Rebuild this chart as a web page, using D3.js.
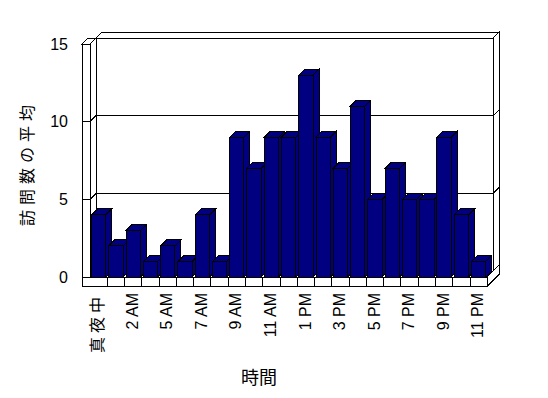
<!DOCTYPE html>
<html>
<head lang="ja">
    <meta charset="UTF-8">
    <script src="https://cdn.jsdelivr.net/npm/d3@7"></script>
    <style>
        body { margin: 0; background: #fff; }
        svg text { font-family: "Liberation Sans", Arial, "Noto Sans CJK JP", sans-serif; fill: #000; }
    </style>
</head>
<body>
<svg width="548" height="398"></svg>
<script>
    // hours shown on the chart (4 AM has no data in the source)
    var hours = ['真夜中', '1 AM', '2 AM', '3 AM', '5 AM', '6 AM', '7 AM', '8 AM', '9 AM', '10 AM', '11 AM', '12 PM',
        '1 PM', '2 PM', '3 PM', '4 PM', '5 PM', '6 PM', '7 PM', '8 PM', '9 PM', '10 PM', '11 PM'];
    var visits = [4, 2, 3, 1, 2, 1, 4, 1, 9, 7, 9, 9, 13, 9, 7, 11, 5, 7, 5, 5, 9, 4, 1];
    var yTicks = [0, 5, 10, 15];
    var yTitle = '訪問数の平均';
    var xTitle = '時間';

    var svg = d3.select('svg');
    var g = svg.append('g').attr('shape-rendering', 'crispEdges');

    var x0 = 90, x1 = 487.3;
    var dx = 6, dy = -6;       // depth of bars / distance to back wall
    var wallLeft = 82;
    var floorH = 9;
    var navy = '#000080';

    var x = d3.scaleBand().domain(hours).range([x0, x1]).paddingInner(0.17).paddingOuter(0.085);
    var y = d3.scaleLinear().domain([0, 15]).range([277, 44]);
    var step = x.step();
    var yTop = y(15), yBase = y(0);

    function poly(pts) {
        return 'M' + pts.map(function (p) { return p[0] + ',' + p[1]; }).join('L') + 'Z';
    }
    function seg(a, b) {
        return 'M' + a[0] + ',' + a[1] + 'L' + b[0] + ',' + b[1];
    }
    var frame = g.append('g').attr('stroke', '#000').attr('stroke-width', 1).attr('fill', '#fff');

    // back wall: face, top and right edge
    frame.append('path').attr('d', poly([[x0 + dx, yTop + dy], [x1 + dx, yTop + dy], [x1 + dx, yBase + dy], [x0 + dx, yBase + dy]]));
    frame.append('path').attr('d', poly([[x0 + dx, yTop + dy], [x1 + dx, yTop + dy], [x1 + 2 * dx, yTop + 2 * dy], [x0 + 2 * dx, yTop + 2 * dy]]));
    frame.append('path').attr('d', poly([[x1 + dx, yTop + dy], [x1 + 2 * dx, yTop + 2 * dy], [x1 + 2 * dx, yBase + 2 * dy], [x1 + dx, yBase + dy]]));

    // left wall: front face, top, inner face
    frame.append('path').attr('d', poly([[wallLeft, yTop], [x0, yTop], [x0, yBase], [wallLeft, yBase]]));
    frame.append('path').attr('d', poly([[wallLeft, yTop], [x0, yTop], [x0 + dx, yTop + dy], [wallLeft + dx, yTop + dy]]));
    frame.append('path').attr('d', poly([[x0, yTop], [x0 + dx, yTop + dy], [x0 + dx, yBase + dy], [x0, yBase]]));

    // gridlines across walls
    var grid = g.append('g').attr('stroke', '#000').attr('fill', 'none');
    yTicks.filter(function (v) { return v > 0 && v < 15; }).forEach(function (v) {
        var yy = y(v);
        grid.append('path').attr('d', seg([wallLeft, yy], [x0, yy]));
        grid.append('path').attr('d', seg([x0, yy], [x0 + dx, yy + dy]));
        grid.append('path').attr('d', seg([x0 + dx, yy + dy], [x1 + dx, yy + dy]));
        grid.append('path').attr('d', seg([x1 + dx, yy + dy], [x1 + 2 * dx, yy + 2 * dy]));
    });

    // floor slab
    frame.append('path').attr('d', poly([[x0, yBase], [x1, yBase], [x1 + dx, yBase + dy], [x0 + dx, yBase + dy]]));
    frame.append('path').attr('d', poly([[x1, yBase], [x1 + 2 * dx, yBase + 2 * dy], [x1 + 2 * dx, yBase + floorH + 2 * dy], [x1, yBase + floorH]]));

    // bars
    var bars = g.selectAll('.bar')
        .data(visits)
        .enter()
        .append('g')
        .attr('class', 'bar')
        .attr('fill', navy)
        .attr('stroke', '#000');
    bars.append('path').attr('d', function (d, i) {
        var bx = x(hours[i]) + x.bandwidth(), by = y(d);
        return poly([[bx, by], [bx + dx, by + dy], [bx + dx, yBase + dy], [bx, yBase]]);
    });
    bars.append('path').attr('d', function (d, i) {
        var bx = x(hours[i]), by = y(d), bw = x.bandwidth();
        return poly([[bx, by], [bx + bw, by], [bx + bw + dx, by + dy], [bx + dx, by + dy]]);
    });
    bars.append('rect')
        .attr('x', function (d, i) { return x(hours[i]); })
        .attr('y', function (d) { return y(d); })
        .attr('width', x.bandwidth())
        .attr('height', function (d) { return yBase - y(d); });

    // floor front face with category dividers
    frame.append('rect').attr('x', wallLeft).attr('y', yBase).attr('width', x1 - wallLeft).attr('height', floorH);
    g.selectAll('.divider')
        .data(hours.slice(1))
        .enter()
        .append('line')
        .attr('x1', function (d) { return x(d) - (step - x.bandwidth()) / 2; })
        .attr('x2', function (d) { return x(d) - (step - x.bandwidth()) / 2; })
        .attr('y1', yBase)
        .attr('y2', yBase + floorH)
        .attr('stroke', '#000');

    // y tick labels
    svg.selectAll('.ytick')
        .data(yTicks)
        .enter()
        .append('text')
        .attr('x', 68)
        .attr('y', function (d) { return y(d); })
        .attr('dy', '0.35em')
        .attr('text-anchor', 'end')
        .style('font-size', '16px')
        .text(function (d) { return d; });

    // x tick labels, every other hour
    svg.selectAll('.xtick')
        .data(hours.filter(function (d, i) { return i % 2 === 0; }))
        .enter()
        .append('text')
        .attr('transform', function (d) {
            return 'translate(' + (x(d) + x.bandwidth() / 2 - 1) + ',' + (yBase + floorH + 7) + ') rotate(-90)';
        })
        .attr('dy', '0.35em')
        .attr('text-anchor', 'end')
        .style('font-size', '16px')
        .style('letter-spacing', function (d) { return /[^\x00-\x7F]/.test(d) ? '4px' : null; })
        .text(function (d) { return d; });

    // axis titles
    svg.append('text')
        .attr('transform', 'translate(27,' + 163 + ') rotate(-90)')
        .attr('dy', '0.35em')
        .attr('text-anchor', 'middle')
        .style('font-size', '16px')
        .style('letter-spacing', '5px')
        .text(yTitle);
    svg.append('text')
        .attr('x', 259)
        .attr('y', 384)
        .attr('text-anchor', 'middle')
        .style('font-size', '18px')
        .text(xTitle);
</script>
</body>
</html>
